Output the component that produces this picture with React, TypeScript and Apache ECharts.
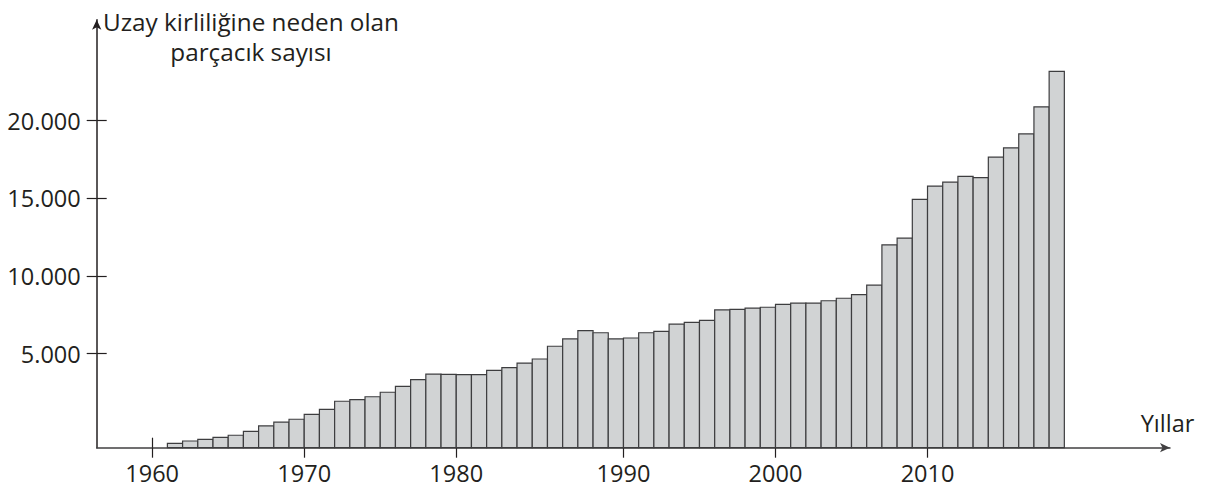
import React, { useEffect, useRef } from "react";
import * as echarts from "echarts";

// Years shown as bars (each bar covers one year on the value axis)
const years = [
  1960, 1961, 1962, 1963, 1964, 1965, 1966, 1967, 1968, 1969,
  1970, 1971, 1972, 1973, 1974, 1975, 1976, 1977, 1978, 1979,
  1980, 1981, 1982, 1983, 1984, 1985, 1986, 1987, 1988, 1989,
  1990, 1991, 1992, 1993, 1994, 1995, 1996, 1997, 1998, 1999,
  2000, 2001, 2002, 2003, 2004, 2005, 2006, 2007, 2008, 2009,
  2010, 2011, 2012, 2013, 2014, 2015, 2016, 2017, 2018,
];

// Bar tops read against the labelled y scale (the drawn x-axis sits below 0)
const particleCounts = [
  -770, -620, -510, -380, -250, 0, 350, 590, 780, 1100,
  1420, 1940, 2040, 2230, 2520, 2900, 3330, 3680, 3670, 3660,
  3650, 3930, 4100, 4400, 4660, 5480, 5950, 6480, 6350, 5950,
  6010, 6350, 6440, 6900, 7020, 7140, 7820, 7850, 7930, 7990,
  8180, 8250, 8250, 8410, 8570, 8800, 9410, 12010, 12440, 14930,
  15790, 16040, 16420, 16330, 17650, 18250, 19150, 20890, 23180,
];

const yTickValues = [5000, 10000, 15000, 20000];
// tick positions as drawn in the source figure, and their labels
const xTickPositions = [1959, 1969, 1979, 1990, 2000, 2010];
const xTickLabels = ["1960", "1970", "1980", "1990", "2000", "2010"];

const yAxisTitle = "Uzay kirliliğine neden olan\nparçacık sayısı";
const xAxisTitle = "Yıllar";

const Y_MIN = -1050;
const Y_MAX = 26500;
const X_MIN = 1955.35;
const X_MAX = 2025.95;

export default function App() {
  const ref = useRef<HTMLDivElement>(null);

  useEffect(() => {
    document.body.style.margin = "0";
    const el = ref.current;
    if (!el) return;
    const chart = echarts.init(el, null, { renderer: "svg" });
    const font = '"Open Sans", sans-serif';
    const ink = "#231f20";
    const lineCol = "#414042";
    const fs = 23.5;
    const fmt = (v: number) =>
      String(v).replace(/\B(?=(\d{3})+(?!\d))/g, ".");
    const data = years.map((y, i) => [y, particleCounts[i]]);

    chart.setOption({
      animation: false,
      title: {
        text: yAxisTitle,
        left: 251,
        top: 6,
        padding: 0,
        textAlign: "center",
        textStyle: {
          fontFamily: font,
          fontSize: 24.3,
          fontWeight: "normal",
          color: ink,
          lineHeight: 30,
        },
      },
      grid: {
        left: 96.7,
        right: 39,
        top: 19.7,
        bottom: 42.3,
        containLabel: false,
        outerBoundsMode: "none",
      },
      xAxis: [
        {
          type: "value",
          position: "bottom",
          min: X_MIN,
          max: X_MAX,
          axisLine: {
            show: true,
            onZero: false,
            lineStyle: { color: lineCol, width: 1.5 },
            symbol: ["none", "arrow"],
            symbolSize: [7, 10],
          },
          axisTick: {
            show: true,
            length: 10,
            lineStyle: { color: ink, width: 1.2 },
            customValues: xTickPositions,
          },
          axisLabel: {
            customValues: xTickPositions,
            formatter: (v: number) => {
              const k = xTickPositions.indexOf(v);
              return k >= 0 ? xTickLabels[k] : "";
            },
            margin: 13,
            fontFamily: font,
            fontSize: fs,
            color: ink,
          },
          splitLine: { show: false },
          name: xAxisTitle,
          nameLocation: "end",
          nameGap: -2.5,
          nameTextStyle: {
            fontFamily: font,
            fontSize: fs,
            color: ink,
            align: "center",
            verticalAlign: "bottom",
            lineHeight: 50,
          },
        },
        {
          type: "value",
          position: "bottom",
          min: X_MIN,
          max: X_MAX,
          axisLine: { show: false, onZero: false },
          axisTick: {
            show: true,
            inside: true,
            length: 10,
            lineStyle: { color: ink, width: 1.2 },
            customValues: xTickPositions,
          },
          axisLabel: { show: false },
          splitLine: { show: false },
        },
      ],
      yAxis: [
        {
          type: "value",
          position: "left",
          min: Y_MIN,
          max: Y_MAX,
          axisLine: {
            show: true,
            onZero: false,
            lineStyle: { color: ink, width: 1.5 },
            symbol: ["none", "arrow"],
            symbolSize: [7, 10],
          },
          axisTick: {
            show: true,
            length: 10,
            lineStyle: { color: ink, width: 1.2 },
            customValues: yTickValues,
          },
          axisLabel: {
            customValues: yTickValues,
            formatter: (v: number) => fmt(v),
            margin: 16,
            fontFamily: font,
            fontSize: fs,
            color: ink,
          },
          splitLine: { show: false },
        },
        {
          type: "value",
          position: "left",
          min: Y_MIN,
          max: Y_MAX,
          axisLine: { show: false, onZero: false },
          axisTick: {
            show: true,
            inside: true,
            length: 10,
            lineStyle: { color: ink, width: 1.2 },
            customValues: yTickValues,
          },
          axisLabel: { show: false },
          splitLine: { show: false },
        },
      ],
      series: [
        {
          type: "custom",
          xAxisIndex: 0,
          yAxisIndex: 0,
          z: 5,
          encode: { x: 0, y: 1 },
          data,
          renderItem: (params: any, api: any) => {
            const year = api.value(0);
            const val = api.value(1);
            const top = api.coord([year, val]);
            const w = api.size([1, 0])[0];
            const cs = params.coordSys;
            const base = cs.y + cs.height;
            return {
              type: "rect",
              shape: { x: top[0], y: top[1], width: w, height: base - top[1] },
              style: { fill: "#d1d3d4", stroke: "#3d3d3f", lineWidth: 1.2 },
            };
          },
        },
      ],
    });

    return () => chart.dispose();
  }, []);

  return <div ref={ref} style={{ width: 1209, height: 490 }} />;
}
